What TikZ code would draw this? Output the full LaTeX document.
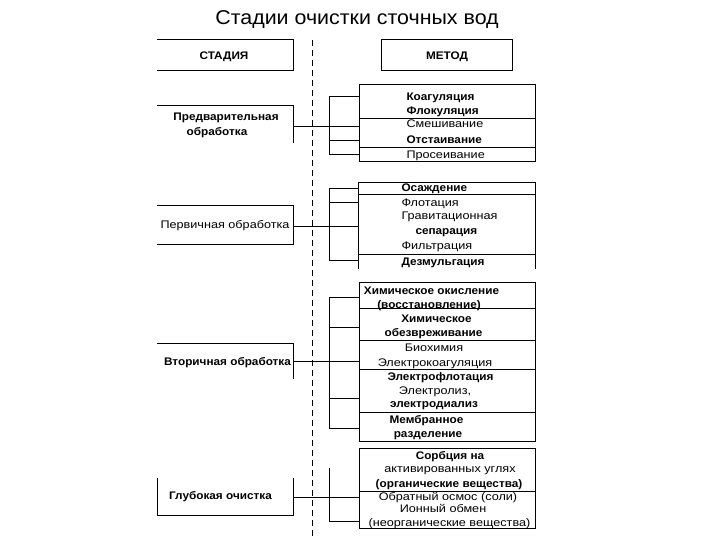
\documentclass[tikz,border=0pt]{standalone}
\usepackage{fontspec}
\setmainfont{Liberation Sans}
\newfontfamily\widefont{Liberation Sans}[FakeStretch=1.15]
\newfontfamily\semiwidefont{Liberation Sans}[FakeStretch=1.07]
\usetikzlibrary{calc}
\tikzset{
  lbl/.style={inner sep=0pt, anchor=base, font=\widefont\fontsize{11}{13}\selectfont},
  lblb/.style={lbl, font=\semiwidefont\bfseries\fontsize{11}{13}\selectfont},
  lbll/.style={lbl, anchor=base west},
  lbllb/.style={lblb, anchor=base west},
  methodbox/.style={inner sep=0pt, minimum width=176pt},
}
\begin{document}
\begin{tikzpicture}[x=1pt,y=-1pt,line width=1pt]
\useasboundingbox (0,0) rectangle (720,540);
\node (title) at (357,20) {\semiwidefont\fontsize{20}{24}\selectfont Стадии очистки сточных вод};
% dividing line
\draw[dash pattern=on 6pt off 4pt] (312,40) -- (312,540);

% headers
\draw (157,40) -- (293,40) -- (293,71) -- (157,71);
\node[lblb] (stadiya) at (224,60) {СТАДИЯ};
\node[draw, inner sep=0pt, minimum width=131pt, minimum height=31pt] (metod) at (446.5,55.5) {};
\node[lblb] (metodtxt) at (447,60) {МЕТОД};

% stages
\draw (157,106) -- (293,106) -- (293,143);
\node[lblb] (st1a) at (226,121) {Предварительная};
\node[lblb] (st1b) at (217,136) {обработка};
\coordinate (s1) at (293,127);

\draw (157,206) -- (293,206) -- (293,244) -- (157,244);
\node[lbl] (st2) at (225,229) {Первичная обработка};
\coordinate (s2) at (293,227);

\draw (157,343) -- (293,343) -- (293,379);
\node[lblb] (st3) at (227.5,365) {Вторичная обработка};
\coordinate (s3) at (293,361);

\draw (157,478) -- (157,515) -- (293,515) -- (293,478);
\node[lblb] (st4) at (220.5,499) {Глубокая очистка};
\coordinate (s4) at (293,497);

% method boxes
\node[methodbox, draw, minimum height=77pt] (m1) at (447,123.5) {};
\foreach \y in {119,148} \draw (359,\y) -- (535,\y);
\node[lbllb] (k1) at (406,101) {Коагуляция};
\node[lbllb] (k2) at (406,115) {Флокуляция};
\node[lbll] (k3) at (406,128) {Смешивание};
\node[lbllb] (k4) at (406,144) {Отстаивание};
\node[lbll] (k5) at (406,159) {Просеивание};

\node[methodbox, minimum height=85pt] (m2) at (447,225.5) {};
\draw (m2.south west) -- (m2.north west) -- (m2.north east) -- (m2.south east);
\foreach \y in {195,254} \draw (359,\y) -- (535,\y);
\node[lbllb] (p1) at (401,192) {Осаждение};
\node[lbll] (p2) at (401,207) {Флотация};
\node[lbll] (p3) at (401,220) {Гравитационная};
\node[lbllb] (p4) at (415,235) {сепарация};
\node[lbll] (p5) at (401,249) {Фильтрация};
\node[lbllb] (p6) at (401,265) {Дезмульгация};

\node[methodbox, draw, minimum height=159pt] (m3) at (447,361.5) {};
\foreach \y in {308,340,369,412} \draw (359,\y) -- (535,\y);
\node[lblb] (v1) at (431.5,294) {Химическое окисление};
\node[lblb] (v2) at (429,308) {(восстановление)};
\node[lblb] (v3) at (436.5,322) {Химическое};
\node[lblb] (v4) at (433.5,336) {обезвреживание};
\node[lbl] (v5) at (434,351) {Биохимия};
\node[lbl] (v6) at (435,366) {Электрокоагуляция};
\node[lblb] (v7) at (440.5,380) {Электрофлотация};
\node[lbl] (v8) at (435,394) {Электролиз,};
\node[lblb] (v9) at (434,407) {электродиализ};
\node[lblb] (v10) at (426.5,423) {Мембранное};
\node[lblb] (v11) at (428,437) {разделение};

\node[methodbox, draw, minimum height=80pt] (m4) at (447,488) {};
\draw (359,491) -- (535,491);
\node[lblb] (g1) at (450,459) {Сорбция на};
\node[lbl] (g2) at (450,472) {активированных углях};
\node[lblb] (g3) at (449,487) {(органические вещества)};
\node[lbl] (g4) at (448,500) {Обратный осмос (соли)};
\node[lbl] (g5) at (443,512) {Ионный обмен};
\node[lbl] (g6) at (449.5,526) {(неорганические вещества)};

% connectors
\draw (s1) -- (s1 -| m1.west);
\draw (329,97) -- (329,155);
\foreach \y in {97,141,155} {
  \coordinate (b) at (329,\y);
  \draw (b) -- (b -| m1.west);
}
\draw (s2) -- (s2 -| m2.west);
\draw (329,189) -- (329,260);
\foreach \y in {189,203,260} {
  \coordinate (b) at (329,\y);
  \draw (b) -- (b -| m2.west);
}
\draw (s3) -- (s3 -| m3.west);
\draw (329,297) -- (329,428);
\foreach \y in {297,327,398,428} {
  \coordinate (b) at (329,\y);
  \draw (b) -- (b -| m3.west);
}
\draw (s4) -- (s4 -| m4.west);
\draw (329,468) -- (329,521);
\coordinate (b) at (329,521);
\draw (b) -- (b -| m4.west);
\end{tikzpicture}
\end{document}
